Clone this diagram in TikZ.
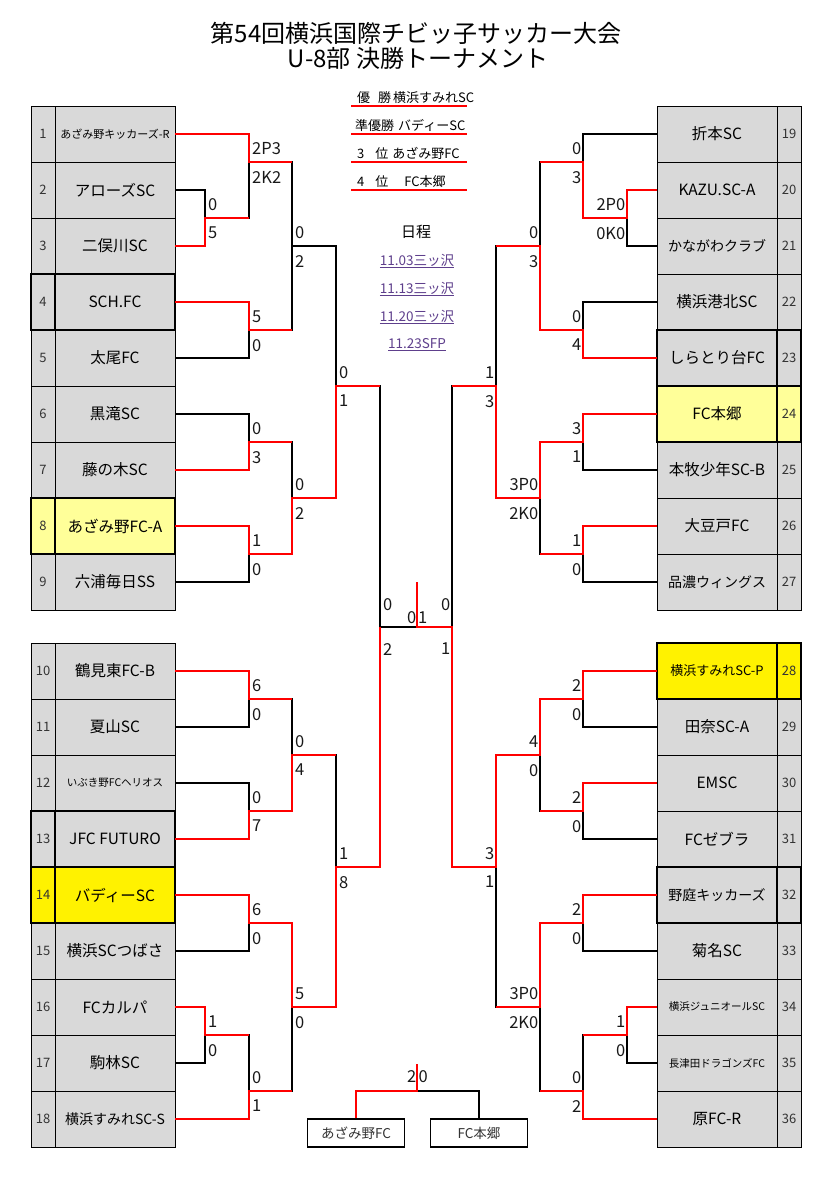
\documentclass[tikz,border=0pt]{standalone}
\usepackage{fontspec}
\setmainfont{Noto Sans CJK JP}
\usetikzlibrary{positioning}

\definecolor{cellgray}{RGB}{217,217,217}
\definecolor{paleyellow}{RGB}{255,255,153}
\definecolor{linkpurple}{RGB}{94,63,140}

\tikzstyle{team} = [rectangle, minimum width=120pt, minimum height=56pt, inner sep=0pt, outer sep=0pt, draw=black, line width=1pt, fill=cellgray, font=\fontsize{15.5}{17}\selectfont]
\tikzstyle{num} = [rectangle, minimum width=24pt, minimum height=56pt, inner sep=0pt, outer sep=0pt, draw=black, line width=1pt, fill=cellgray, font=\fontsize{13}{14}\selectfont, text=black!80]
\tikzstyle{thickbox} = [line width=2.3pt]
\tikzstyle{bline} = [line width=1.2pt]
\tikzstyle{win} = [line width=2.3pt, draw=red]
\tikzstyle{score} = [inner sep=0pt, font=\fontsize{16.5}{18}\selectfont, text=black!90]
\tikzstyle{rank} = [anchor=south west, minimum width=116pt, text width=108pt, inner xsep=4pt, inner ysep=2pt, align=left, font=\fontsize{13}{15}\selectfont]
\tikzstyle{date} = [text=linkpurple, font=\fontsize{13.5}{15}\selectfont]
\tikzstyle{third} = [rectangle, minimum width=97pt, minimum height=28pt, draw=black, line width=1.2pt, font=\fontsize{13.5}{15}\selectfont, text=black!80]

\begin{document}
\begin{tikzpicture}[x=1pt, y=-1pt]
\useasboundingbox (0,0) rectangle (830,1179);

\node (title1) [font=\fontsize{24}{28}\selectfont] at (416,33) {第54回横浜国際チビッ子サッカー大会};
\node (title2) [font=\fontsize{24}{28}\selectfont] at (418,58) {U-8部 決勝トーナメント};

% left table
\node (t1) [team, font=\fontsize{11}{13}\selectfont] at (115,134) {あざみ野キッカーズ-R};
\node (t2) [team, below=0pt of t1] {アローズSC};
\node (t3) [team, below=0pt of t2] {二俣川SC};
\node (t4) [team, below=0pt of t3] {SCH.FC};
\node (t5) [team, below=0pt of t4] {太尾FC};
\node (t6) [team, below=0pt of t5] {黒滝SC};
\node (t7) [team, below=0pt of t6] {藤の木SC};
\node (t8) [team, fill=paleyellow, below=0pt of t7] {あざみ野FC-A};
\node (t9) [team, below=0pt of t8] {六浦毎日SS};
\node (t10) [team, below=33pt of t9] {鶴見東FC-B};
\node (t11) [team, below=0pt of t10] {夏山SC};
\node (t12) [team, font=\fontsize{10.5}{12}\selectfont, below=0pt of t11] {いぶき野FCヘリオス};
\node (t13) [team, below=0pt of t12] {JFC FUTURO};
\node (t14) [team, fill=yellow, below=0pt of t13] {バディーSC};
\node (t15) [team, below=0pt of t14] {横浜SCつばさ};
\node (t16) [team, below=0pt of t15] {FCカルパ};
\node (t17) [team, below=0pt of t16] {駒林SC};
\node (t18) [team, font=\fontsize{14}{16}\selectfont, below=0pt of t17] {横浜すみれSC-S};

\node (n1) [num, left=0pt of t1] {1};
\node (n2) [num, left=0pt of t2] {2};
\node (n3) [num, left=0pt of t3] {3};
\node (n4) [num, left=0pt of t4] {4};
\node (n5) [num, left=0pt of t5] {5};
\node (n6) [num, left=0pt of t6] {6};
\node (n7) [num, left=0pt of t7] {7};
\node (n8) [num, fill=paleyellow, left=0pt of t8] {8};
\node (n9) [num, left=0pt of t9] {9};
\node (n10) [num, left=0pt of t10] {10};
\node (n11) [num, left=0pt of t11] {11};
\node (n12) [num, left=0pt of t12] {12};
\node (n13) [num, left=0pt of t13] {13};
\node (n14) [num, fill=yellow, left=0pt of t14] {14};
\node (n15) [num, left=0pt of t15] {15};
\node (n16) [num, left=0pt of t16] {16};
\node (n17) [num, left=0pt of t17] {17};
\node (n18) [num, left=0pt of t18] {18};

% right table
\node (t19) [team] at (717,134) {折本SC};
\node (t20) [team, below=0pt of t19] {KAZU.SC-A};
\node (t21) [team, font=\fontsize{14}{16}\selectfont, below=0pt of t20] {かながわクラブ};
\node (t22) [team, below=0pt of t21] {横浜港北SC};
\node (t23) [team, below=0pt of t22] {しらとり台FC};
\node (t24) [team, fill=paleyellow, below=0pt of t23] {FC本郷};
\node (t25) [team, below=0pt of t24] {本牧少年SC-B};
\node (t26) [team, below=0pt of t25] {大豆戸FC};
\node (t27) [team, font=\fontsize{14}{16}\selectfont, below=0pt of t26] {品濃ウィングス};
\node (t28) [team, fill=yellow, font=\fontsize{13}{15}\selectfont, below=33pt of t27] {横浜すみれSC-P};
\node (t29) [team, below=0pt of t28] {田奈SC-A};
\node (t30) [team, below=0pt of t29] {EMSC};
\node (t31) [team, below=0pt of t30] {FCゼブラ};
\node (t32) [team, font=\fontsize{14}{16}\selectfont, below=0pt of t31] {野庭キッカーズ};
\node (t33) [team, below=0pt of t32] {菊名SC};
\node (t34) [team, font=\fontsize{10.5}{12}\selectfont, below=0pt of t33] {横浜ジュニオールSC};
\node (t35) [team, font=\fontsize{10.5}{12}\selectfont, below=0pt of t34] {長津田ドラゴンズFC};
\node (t36) [team, below=0pt of t35] {原FC-R};

\node (n19) [num, right=0pt of t19] {19};
\node (n20) [num, right=0pt of t20] {20};
\node (n21) [num, right=0pt of t21] {21};
\node (n22) [num, right=0pt of t22] {22};
\node (n23) [num, right=0pt of t23] {23};
\node (n24) [num, fill=paleyellow, right=0pt of t24] {24};
\node (n25) [num, right=0pt of t25] {25};
\node (n26) [num, right=0pt of t26] {26};
\node (n27) [num, right=0pt of t27] {27};
\node (n28) [num, fill=yellow, right=0pt of t28] {28};
\node (n29) [num, right=0pt of t29] {29};
\node (n30) [num, right=0pt of t30] {30};
\node (n31) [num, right=0pt of t31] {31};
\node (n32) [num, right=0pt of t32] {32};
\node (n33) [num, right=0pt of t33] {33};
\node (n34) [num, right=0pt of t34] {34};
\node (n35) [num, right=0pt of t35] {35};
\node (n36) [num, right=0pt of t36] {36};

\draw [thickbox] (n4.north west) rectangle (n4.south east) (t4.north west) rectangle (t4.south east);
\draw [thickbox] (n8.north west) rectangle (n8.south east) (t8.north west) rectangle (t8.south east);
\draw [thickbox] (n13.north west) rectangle (n13.south east) (t13.north west) rectangle (t13.south east);
\draw [thickbox] (n14.north west) rectangle (n14.south east) (t14.north west) rectangle (t14.south east);
\draw [thickbox] (t23.north west) rectangle (t23.south east) (n23.north west) rectangle (n23.south east);
\draw [thickbox] (t24.north west) rectangle (t24.south east) (n24.north west) rectangle (n24.south east);
\draw [thickbox] (t28.north west) rectangle (t28.south east) (n28.north west) rectangle (n28.south east);
\draw [thickbox] (t32.north west) rectangle (t32.south east) (n32.north west) rectangle (n32.south east);

% joints
\coordinate (j23) at (205,218);
\coordinate (j1) at (249,162);
\coordinate (j45) at (249,330);
\coordinate (jL1) at (292,246);
\coordinate (j67) at (249,442);
\coordinate (j89) at (249,554);
\coordinate (jL2) at (292,498);
\coordinate (jLT) at (336,386);
\coordinate (j1011) at (249,699);
\coordinate (j1213) at (249,811);
\coordinate (jL3) at (292,755);
\coordinate (j1415) at (249,923);
\coordinate (j1617) at (205,1035);
\coordinate (j18) at (249,1091);
\coordinate (jL4) at (292,1007);
\coordinate (jLB) at (336,867);
\coordinate (jL) at (380,627);

\coordinate (j2021) at (627,218);
\coordinate (j19) at (583,162);
\coordinate (j2223) at (583,330);
\coordinate (jR1) at (540,246);
\coordinate (j2425) at (583,442);
\coordinate (j2627) at (583,554);
\coordinate (jR2) at (540,498);
\coordinate (jRT) at (496,386);
\coordinate (j2829) at (583,699);
\coordinate (j3031) at (583,811);
\coordinate (jR3) at (540,755);
\coordinate (j3233) at (583,923);
\coordinate (j3435) at (627,1035);
\coordinate (j36) at (583,1091);
\coordinate (jR4) at (540,1007);
\coordinate (jRB) at (496,867);
\coordinate (jR) at (452,627);

\coordinate (cF) at (417,627);
\coordinate (cTop) at (417,582);
\coordinate (c3) at (417,1091);
\coordinate (c3t) at (417,1064);

\draw [bline] (t2.east) -| (j23) |- (t3.east);
\draw [bline] (t1.east) -| (j1) |- (j23);
\draw [bline] (t4.east) -| (j45) |- (t5.east);
\draw [bline] (j1) -| (jL1) |- (j45);
\draw [bline] (t6.east) -| (j67) |- (t7.east);
\draw [bline] (t8.east) -| (j89) |- (t9.east);
\draw [bline] (j67) -| (jL2) |- (j89);
\draw [bline] (jL1) -| (jLT) |- (jL2);
\draw [bline] (t10.east) -| (j1011) |- (t11.east);
\draw [bline] (t12.east) -| (j1213) |- (t13.east);
\draw [bline] (j1011) -| (jL3) |- (j1213);
\draw [bline] (t14.east) -| (j1415) |- (t15.east);
\draw [bline] (t16.east) -| (j1617) |- (t17.east);
\draw [bline] (j1617) -| (j18) |- (t18.east);
\draw [bline] (j1415) -| (jL4) |- (j18);
\draw [bline] (jL3) -| (jLB) |- (jL4);
\draw [bline] (jLT) -| (jL) |- (jLB);

\draw [bline] (t20.west) -| (j2021) |- (t21.west);
\draw [bline] (t19.west) -| (j19) |- (j2021);
\draw [bline] (t22.west) -| (j2223) |- (t23.west);
\draw [bline] (j19) -| (jR1) |- (j2223);
\draw [bline] (t24.west) -| (j2425) |- (t25.west);
\draw [bline] (t26.west) -| (j2627) |- (t27.west);
\draw [bline] (j2425) -| (jR2) |- (j2627);
\draw [bline] (jR1) -| (jRT) |- (jR2);
\draw [bline] (t28.west) -| (j2829) |- (t29.west);
\draw [bline] (t30.west) -| (j3031) |- (t31.west);
\draw [bline] (j2829) -| (jR3) |- (j3031);
\draw [bline] (t32.west) -| (j3233) |- (t33.west);
\draw [bline] (t34.west) -| (j3435) |- (t35.west);
\draw [bline] (j3435) -| (j36) |- (t36.west);
\draw [bline] (j3233) -| (jR4) |- (j36);
\draw [bline] (jR3) -| (jRB) |- (jR4);
\draw [bline] (jRT) -| (jR) |- (jRB);
\draw [bline] (jL) -- (jR);

% winners
\draw [win] (t1.east) -| (j1) -- (j1 -| jL1);
\draw [win] (t3.east) -| (j23) -- (j23 -| j1);
\draw [win] (t4.east) -| (j45) -- (j45 -| jL1);
\draw [win] (t7.east) -| (j67) -- (j67 -| jL2);
\draw [win] (t8.east) -| (j89) -| (jL2) -| (jLT) -- (jLT -| jL);
\draw [win] (t10.east) -| (j1011) -- (j1011 -| jL3);
\draw [win] (t13.east) -| (j1213) -| (jL3) -- (jL3 -| jLB);
\draw [win] (t14.east) -| (j1415) -| (jL4) -| (jLB) -| (jL);
\draw [win] (t16.east) -| (j1617) -- (j1617 -| j18);
\draw [win] (t18.east) -| (j18) -- (j18 -| jL4);

\draw [win] (t20.west) -| (j2021) -| (j19) -- (j19 -| jR1);
\draw [win] (t23.west) -| (j2223) -| (jR1) -- (jR1 -| jRT);
\draw [win] (t24.west) -| (j2425) -| (jR2) -| (jRT) -- (jRT -| jR);
\draw [win] (t26.west) -| (j2627) -- (j2627 -| jR2);
\draw [win] (t28.west) -| (j2829) -| (jR3) -| (jRB) -| (jR) -- (cF) -- (cTop);
\draw [win] (t30.west) -| (j3031) -- (j3031 -| jR3);
\draw [win] (t32.west) -| (j3233) -| (jR4) -- (jR4 -| jRB);
\draw [win] (t34.west) -| (j3435) -- (j3435 -| j36);
\draw [win] (t36.west) -| (j36) -- (j36 -| jR4);

% scores
\node (s23a) [score, above right=7pt and 3pt of j23] {0}; \node (s23b) [score, below right=9pt and 3pt of j23] {5};
\node (s1a) [score, above right=7pt and 3pt of j1] {2P3}; \node (s1b) [score, below right=9pt and 3pt of j1] {2K2};
\node (s45a) [score, above right=7pt and 3pt of j45] {5}; \node (s45b) [score, below right=9pt and 3pt of j45] {0};
\node (sL1a) [score, above right=7pt and 3pt of jL1] {0}; \node (sL1b) [score, below right=9pt and 3pt of jL1] {2};
\node (s67a) [score, above right=7pt and 3pt of j67] {0}; \node (s67b) [score, below right=9pt and 3pt of j67] {3};
\node (s89a) [score, above right=7pt and 3pt of j89] {1}; \node (s89b) [score, below right=9pt and 3pt of j89] {0};
\node (sL2a) [score, above right=7pt and 3pt of jL2] {0}; \node (sL2b) [score, below right=9pt and 3pt of jL2] {2};
\node (sLTa) [score, above right=7pt and 3pt of jLT] {0}; \node (sLTb) [score, below right=9pt and 3pt of jLT] {1};
\node (s1011a) [score, above right=7pt and 3pt of j1011] {6}; \node (s1011b) [score, below right=9pt and 3pt of j1011] {0};
\node (s1213a) [score, above right=7pt and 3pt of j1213] {0}; \node (s1213b) [score, below right=9pt and 3pt of j1213] {7};
\node (sL3a) [score, above right=7pt and 3pt of jL3] {0}; \node (sL3b) [score, below right=9pt and 3pt of jL3] {4};
\node (s1415a) [score, above right=7pt and 3pt of j1415] {6}; \node (s1415b) [score, below right=9pt and 3pt of j1415] {0};
\node (s1617a) [score, above right=7pt and 3pt of j1617] {1}; \node (s1617b) [score, below right=9pt and 3pt of j1617] {0};
\node (s18a) [score, above right=7pt and 3pt of j18] {0}; \node (s18b) [score, below right=9pt and 3pt of j18] {1};
\node (sL4a) [score, above right=7pt and 3pt of jL4] {5}; \node (sL4b) [score, below right=9pt and 3pt of jL4] {0};
\node (sLBa) [score, above right=7pt and 3pt of jLB] {1}; \node (sLBb) [score, below right=9pt and 3pt of jLB] {8};
\node (sLa) [score, above right=16pt and 3pt of jL] {0}; \node (sLb) [score, below right=16pt and 3pt of jL] {2};

\node (s2021a) [score, above left=7pt and 1.5pt of j2021] {2P0}; \node (s2021b) [score, below left=9pt and 1.5pt of j2021] {0K0};
\node (s19a) [score, above left=7pt and 1.5pt of j19] {0}; \node (s19b) [score, below left=9pt and 1.5pt of j19] {3};
\node (s2223a) [score, above left=7pt and 1.5pt of j2223] {0}; \node (s2223b) [score, below left=9pt and 1.5pt of j2223] {4};
\node (sR1a) [score, above left=7pt and 1.5pt of jR1] {0}; \node (sR1b) [score, below left=9pt and 1.5pt of jR1] {3};
\node (s2425a) [score, above left=7pt and 1.5pt of j2425] {3}; \node (s2425b) [score, below left=9pt and 1.5pt of j2425] {1};
\node (s2627a) [score, above left=7pt and 1.5pt of j2627] {1}; \node (s2627b) [score, below left=9pt and 1.5pt of j2627] {0};
\node (sR2a) [score, above left=7pt and 1.5pt of jR2] {3P0}; \node (sR2b) [score, below left=9pt and 1.5pt of jR2] {2K0};
\node (sRTa) [score, above left=7pt and 1.5pt of jRT] {1}; \node (sRTb) [score, below left=9pt and 1.5pt of jRT] {3};
\node (s2829a) [score, above left=7pt and 1.5pt of j2829] {2}; \node (s2829b) [score, below left=9pt and 1.5pt of j2829] {0};
\node (s3031a) [score, above left=7pt and 1.5pt of j3031] {2}; \node (s3031b) [score, below left=9pt and 1.5pt of j3031] {0};
\node (sR3a) [score, above left=7pt and 1.5pt of jR3] {4}; \node (sR3b) [score, below left=9pt and 1.5pt of jR3] {0};
\node (s3233a) [score, above left=7pt and 1.5pt of j3233] {2}; \node (s3233b) [score, below left=9pt and 1.5pt of j3233] {0};
\node (s3435a) [score, above left=7pt and 1.5pt of j3435] {1}; \node (s3435b) [score, below left=9pt and 1.5pt of j3435] {0};
\node (s36a) [score, above left=7pt and 1.5pt of j36] {0}; \node (s36b) [score, below left=9pt and 1.5pt of j36] {2};
\node (sR4a) [score, above left=7pt and 1.5pt of jR4] {3P0}; \node (sR4b) [score, below left=9pt and 1.5pt of jR4] {2K0};
\node (sRBa) [score, above left=7pt and 1.5pt of jRB] {3}; \node (sRBb) [score, below left=9pt and 1.5pt of jRB] {1};
\node (sRa) [score, above left=16pt and 1.5pt of jR] {0}; \node (sRb) [score, below left=16pt and 1.5pt of jR] {1};

\node (sFa) [score, above left=3pt and 0.5pt of cF] {0}; \node (sFb) [score, above right=3pt and 1pt of cF] {1};

% third place
\node (b3a) [third] at (356,1133) {あざみ野FC};
\node (b3b) [third] at (479,1133) {FC本郷};
\draw [bline] (b3b.north) |- (c3);
\draw [win] (b3a.north) |- (c3) -- (c3t);
\node (s3a) [score, above left=8pt and 0.5pt of c3] {2}; \node (s3b) [score, above right=8pt and 1.5pt of c3] {0};

% results and schedule
\node (r1) [rank] at (351,106) {\mbox{\hspace{2pt}優\hspace{8pt}勝\hspace{2pt}横浜すみれSC}};
\node (r2) [rank] at (351,134) {\mbox{準優勝\hspace{4pt}バディーSC}};
\node (r3) [rank] at (351,162) {\mbox{\hspace{2pt}3\hspace{11pt}位\hspace{4pt}あざみ野FC}};
\node (r4) [rank] at (351,190) {\mbox{\hspace{2pt}4\hspace{11pt}位\hspace{16pt}FC本郷}};
\draw [win] (r1.south west) -- (r1.south east);
\draw [win] (r2.south west) -- (r2.south east);
\draw [win] (r3.south west) -- (r3.south east);
\draw [win] (r4.south west) -- (r4.south east);

\node (sched) [font=\fontsize{15}{17}\selectfont] at (416,232) {日程};
\node (d1) [date] at (417,261) {\underline{11.03三ッ沢}};
\node (d2) [date] at (417,289) {\underline{11.13三ッ沢}};
\node (d3) [date] at (417,317) {\underline{11.20三ッ沢}};
\node (d4) [date] at (417,345) {\underline{11.23SFP}};

\end{tikzpicture}
\end{document}
